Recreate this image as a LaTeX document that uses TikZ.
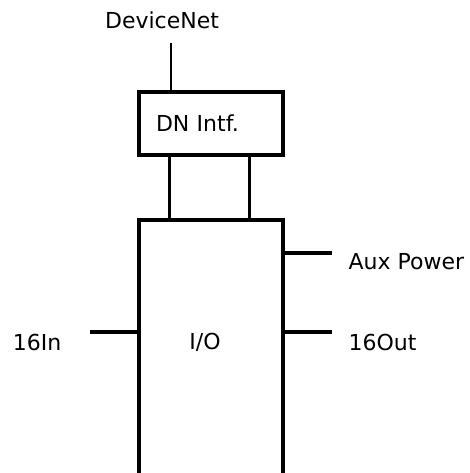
\documentclass[tikz,border=0pt]{standalone}
\usepackage{fontspec}
\setmainfont{DejaVu Sans}
\usepackage{tikz}
\usetikzlibrary{positioning}

\begin{document}
\begin{tikzpicture}[x=1pt,y=-1pt,
  font=\fontsize{22}{26}\selectfont,
  blk/.style={draw,line width=3.4pt,inner sep=0pt},
  wire/.style={line width=3.2pt}]
\useasboundingbox (0,0) rectangle (469,473);
\node (devnet) at (162,20) {DeviceNet};
\coordinate (devend) at (171,43);
\node[blk,minimum height=63pt,text width=110pt,inner xsep=17pt,align=left] (dnintf) at (211,123.5) {DN Intf.};
\node[minimum height=244pt,inner sep=0pt] (io) at (205,342) {I/O};
\coordinate (iobl) at (139,480);
\coordinate (iobr) at (283,480);
\draw[line width=3.4pt] (iobl) -- (iobl |- io.north) -- (iobr |- io.north) -- (iobr);
\draw[line width=2.4pt] (devend) -- (devend |- dnintf.north);
\draw[wire] ([xshift=32pt]dnintf.south west) -- ([xshift=32pt]dnintf.south west |- io.north);
\draw[wire] ([xshift=112pt]dnintf.south west) -- ([xshift=112pt]dnintf.south west |- io.north);
\node[anchor=west] (aux) at (345,262) {Aux Power};
\node[anchor=west] (out) at (345,342) {16Out};
\node (in) at (37,342) {16In};
\coordinate (auxend) at (332,253);
\coordinate (outend) at (332,332);
\coordinate (inend) at (90,332);
\draw[wire] (iobr |- auxend) -- (auxend);
\draw[wire] (iobr |- outend) -- (outend);
\draw[wire] (iobl |- inend) -- (inend);
\end{tikzpicture}
\end{document}
